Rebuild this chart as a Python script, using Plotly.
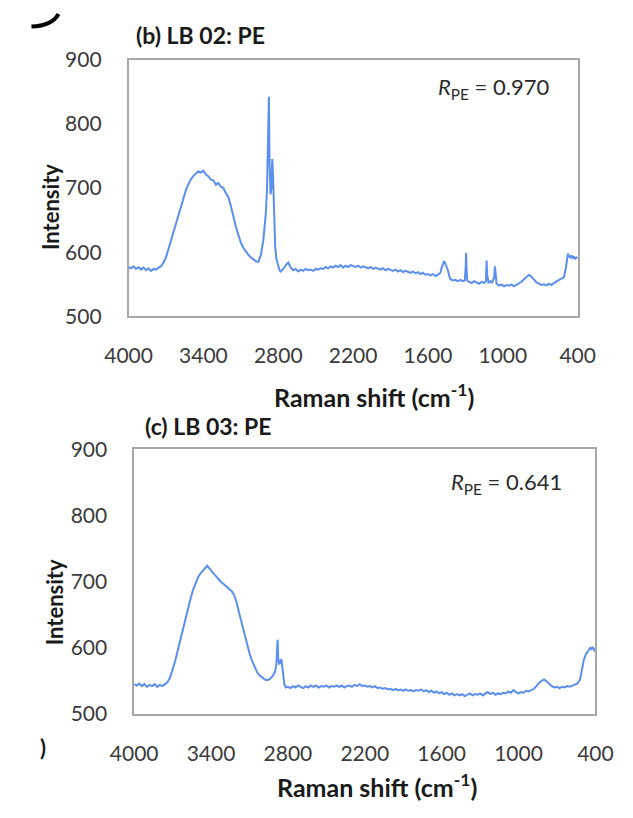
import plotly.graph_objects as go

W, H = 633, 818

# ---- data ----
wn_b = [4000, 3980, 3960, 3940, 3920, 3900, 3880, 3860, 3840, 3820, 3800, 3780, 3760, 3740, 3720, 3700,
        3680, 3660, 3640, 3620, 3600, 3580, 3560, 3540, 3520, 3500, 3480, 3460, 3440, 3420, 3400, 3380,
        3360, 3340, 3320, 3300, 3280, 3260, 3240, 3220, 3200, 3180, 3160, 3140, 3120, 3100, 3080, 3060,
        3040, 3020, 3000, 2980, 2960, 2940, 2920, 2900, 2890, 2880, 2875, 2870, 2862, 2855, 2848, 2842,
        2835, 2825, 2815, 2800, 2790, 2780, 2760, 2740, 2720, 2700, 2680, 2660, 2640, 2620, 2600, 2580,
        2560, 2540, 2520, 2500, 2480, 2460, 2440, 2420, 2400, 2380, 2360, 2340, 2320, 2300, 2280, 2260,
        2240, 2220, 2200, 2180, 2160, 2140, 2120, 2100, 2080, 2060, 2040, 2020, 2000, 1980, 1960, 1940,
        1920, 1900, 1880, 1860, 1840, 1820, 1800, 1780, 1760, 1740, 1720, 1700, 1680, 1660, 1640, 1620,
        1600, 1580, 1560, 1540, 1520, 1500, 1490, 1480, 1470, 1460, 1450, 1440, 1430, 1420, 1400, 1380,
        1360, 1340, 1320, 1305, 1298, 1294, 1290, 1285, 1270, 1250, 1230, 1210, 1190, 1170, 1150, 1135,
        1130, 1125, 1115, 1100, 1090, 1080, 1070, 1063, 1058, 1050, 1030, 1010, 990, 970, 950, 930,
        910, 890, 870, 850, 830, 810, 790, 770, 750, 730, 710, 690, 670, 650, 630, 610,
        590, 570, 550, 530, 510, 495, 485, 478, 470, 460, 450, 440, 430, 420, 410, 400]
int_b = [577, 575, 578, 574, 577, 573, 576, 572, 575, 571, 574, 573, 576, 578, 584, 592,
         605, 618, 632, 645, 660, 672, 684, 697, 706, 714, 719, 722, 726, 724, 727, 721,
         718, 713, 712, 705, 708, 702, 700, 692, 686, 672, 655, 640, 627, 615, 607, 601,
         596, 592, 589, 586, 585, 595, 618, 660, 700, 790, 842, 740, 690, 700, 745, 720,
         660, 610, 590, 576, 572, 570, 574, 580, 584, 576, 572, 574, 570, 573, 571, 574,
         572, 573, 571, 574, 573, 575, 574, 577, 575, 578, 576, 579, 577, 580, 576, 579,
         577, 580, 578, 577, 579, 576, 578, 577, 575, 577, 574, 576, 575, 573, 575, 572,
         574, 573, 571, 573, 570, 572, 569, 571, 570, 568, 570, 567, 569, 566, 568, 565,
         566, 564, 566, 563, 565, 568, 576, 580, 586, 582, 577, 572, 563, 558, 556, 557,
         555, 557, 555, 556, 575, 599, 570, 556, 554, 552, 555, 553, 551, 554, 552, 555,
         587, 565, 553, 555, 552, 556, 560, 578, 560, 551, 548, 550, 547, 549, 548, 550,
         547, 549, 551, 554, 558, 562, 565, 562, 557, 553, 551, 549, 550, 548, 551, 549,
         552, 555, 557, 559, 561, 575, 592, 598, 594, 592, 595, 591, 593, 590, 592, 590]

wn_c = [4000, 3980, 3960, 3940, 3920, 3900, 3880, 3860, 3840, 3820, 3800, 3780, 3760, 3740, 3720, 3700,
        3680, 3660, 3640, 3620, 3600, 3580, 3560, 3540, 3520, 3500, 3480, 3460, 3440, 3430, 3420, 3400,
        3380, 3360, 3340, 3320, 3300, 3280, 3260, 3240, 3220, 3200, 3180, 3160, 3140, 3120, 3100, 3080,
        3060, 3040, 3020, 3000, 2980, 2960, 2940, 2920, 2900, 2890, 2884, 2880, 2876, 2868, 2860, 2852,
        2846, 2838, 2828, 2815, 2800, 2780, 2760, 2740, 2720, 2700, 2680, 2660, 2640, 2620, 2600, 2580,
        2560, 2540, 2520, 2500, 2480, 2460, 2440, 2420, 2400, 2380, 2360, 2340, 2320, 2300, 2280, 2260,
        2240, 2220, 2200, 2180, 2160, 2140, 2120, 2100, 2080, 2060, 2040, 2020, 2000, 1980, 1960, 1940,
        1920, 1900, 1880, 1860, 1840, 1820, 1800, 1780, 1760, 1740, 1720, 1700, 1680, 1660, 1640, 1620,
        1600, 1580, 1560, 1540, 1520, 1500, 1480, 1460, 1440, 1420, 1400, 1380, 1360, 1340, 1320, 1300,
        1280, 1260, 1240, 1220, 1200, 1180, 1160, 1140, 1120, 1100, 1080, 1060, 1040, 1020, 1000, 980,
        960, 940, 920, 900, 880, 860, 840, 820, 800, 780, 760, 740, 720, 700, 680, 660,
        640, 620, 600, 580, 560, 540, 520, 505, 490, 475, 460, 450, 440, 430, 420, 410, 400]
int_c = [545, 543, 546, 542, 545, 541, 544, 542, 545, 541, 544, 542, 545, 548, 555, 566,
         580, 596, 612, 628, 645, 660, 674, 688, 698, 707, 713, 717, 721, 724, 722, 716,
         712, 708, 703, 699, 696, 693, 690, 686, 680, 668, 652, 636, 620, 605, 592, 580,
         570, 563, 558, 555, 552, 551, 553, 557, 564, 575, 590, 612, 585, 575, 578, 583,
         575, 558, 545, 540, 541, 539, 542, 540, 543, 541, 539, 542, 540, 543, 541, 543,
         540, 542, 541, 543, 540, 542, 541, 543, 541, 543, 540, 542, 543, 541, 544, 542,
         545, 542, 543, 541, 542, 540, 542, 539, 540, 538, 539, 537, 538, 536, 538, 536,
         537, 535, 537, 535, 536, 534, 536, 535, 537, 534, 536, 533, 535, 532, 534, 531,
         533, 530, 532, 529, 531, 528, 530, 528, 530, 527, 529, 531, 528, 530, 529, 531,
         528, 530, 533, 530, 532, 529, 531, 530, 532, 531, 534, 532, 536, 533, 531, 533,
         532, 535, 534, 536, 538, 542, 547, 550, 552, 549, 545, 542, 540, 541, 539, 541,
         540, 542, 541, 543, 544, 546, 552, 568, 582, 590, 595, 598, 600, 598, 601, 597, 594]

x_ticks = [4000, 3400, 2800, 2200, 1600, 1000, 400]
y_ticks = [500, 600, 700, 800, 900]
titles = ["(b) LB 02: PE", "(c) LB 03: PE"]
r_labels = ["0.970", "0.641"]

LINE = "#5a8ff0"
FONT = "Lato, 'Open Sans', sans-serif"


def px(x):
    return x / W


def py(y):
    return 1 - y / H


fig = go.Figure()
fig.add_trace(go.Scatter(x=wn_b, y=int_b, mode="lines", line=dict(color=LINE, width=2),
                         xaxis="x", yaxis="y", showlegend=False))
fig.add_trace(go.Scatter(x=wn_c, y=int_c, mode="lines", line=dict(color=LINE, width=2),
                         xaxis="x2", yaxis="y2", showlegend=False))

axis_common = dict(showline=True, mirror=True, linecolor="#a6a6a6", linewidth=1.5,
                   showgrid=False, zeroline=False, ticks="",
                   tickfont=dict(family=FONT, size=21, color="#3a3a3a"))

fig.update_layout(
    width=W, height=H, margin=dict(l=0, r=0, t=0, b=0),
    paper_bgcolor="white", plot_bgcolor="white",
    xaxis=dict(domain=[px(112), px(593)], range=[4000, 400], tickvals=x_ticks,
               anchor="y", ticklabelstandoff=20, **axis_common),
    yaxis=dict(domain=[py(312), py(47)], range=[500, 900], tickvals=y_ticks,
               anchor="x", ticklabelstandoff=21, **axis_common),
    xaxis2=dict(domain=[px(118), px(612)], range=[4000, 400], tickvals=x_ticks,
                anchor="y2", ticklabelstandoff=20, **axis_common),
    yaxis2=dict(domain=[py(722), py(449)], range=[500, 900], tickvals=y_ticks,
                anchor="x2", ticklabelstandoff=21, **axis_common),
)


def bold(size):
    return dict(family=FONT, size=size, color="#1a1a1a", weight="bold")


ann = []
# panel titles
ann.append(dict(text=titles[0], x=px(118), y=py(22), xanchor="left", yanchor="middle", font=bold(23)))
ann.append(dict(text=titles[1], x=px(127), y=py(425), xanchor="left", yanchor="middle", font=bold(23)))
# x-axis titles
ann.append(dict(text="Raman shift (cm<sup>-1</sup>)", x=px(375), y=py(394), xanchor="center",
                yanchor="middle", font=bold(25)))
ann.append(dict(text="Raman shift (cm<sup>-1</sup>)", x=px(378), y=py(796), xanchor="center",
                yanchor="middle", font=bold(25)))
# y-axis titles
ann.append(dict(text="Intensity", x=px(29), y=py(199), textangle=-90, xanchor="center",
                yanchor="middle", font=bold(22)))
ann.append(dict(text="Intensity", x=px(33), y=py(607), textangle=-90, xanchor="center",
                yanchor="middle", font=bold(22)))
for a in ann:
    a.update(xref="paper", yref="paper", showarrow=False)
fig.update_layout(annotations=ann)

# R_PE labels
fig.add_annotation(text="<i>R</i><sub>PE</sub> = " + r_labels[0], xref="paper", yref="paper",
                   x=px(564), y=py(76), xanchor="right", yanchor="middle", showarrow=False,
                   font=dict(family=FONT, size=22, color="#2a2a2a"))
fig.add_annotation(text="<i>R</i><sub>PE</sub> = " + r_labels[1], xref="paper", yref="paper",
                   x=px(578), y=py(484), xanchor="right", yanchor="middle", showarrow=False,
                   font=dict(family=FONT, size=22, color="#2a2a2a"))

# cropped fragments of neighbouring figure labels
fig.add_annotation(text=")", xref="paper", yref="paper", x=px(20), y=py(757), showarrow=False,
                   xanchor="center", yanchor="middle",
                   font=dict(family=FONT, size=22, color="#1a1a1a", weight="bold"))
fig.add_shape(type="path", xref="paper", yref="paper",
              path=f"M {px(8)},{py(13)} Q {px(30)},{py(12)} {px(37)},{py(0)}",
              line=dict(color="black", width=4))

fig.write_html("out.html")
